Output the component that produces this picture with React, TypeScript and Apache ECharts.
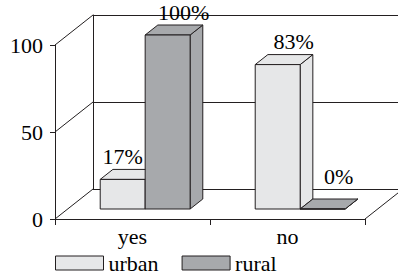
import React, { useEffect, useRef } from 'react';
import * as echarts from 'echarts';

const categories = ['yes', 'no'];
const seriesNames = ['urban', 'rural'];
const urbanValues = [17, 83];
const ruralValues = [100, 0];
const yTicks = [0, 50, 100];

const FONT = 'Liberation Serif, DejaVu Serif, serif';
const FS = 22;
const LINE = '#231f20';
const COLORS = ['#e6e7e8', '#a7a9ac'];
const DX = 38;
const DY = -30;
const FX = DX / 3;
const FY = DY / 3;
const BX = DX / 3;
const BY = DY / 3;

function barRender(seriesIdx: number) {
  return (params: any, api: any) => {
    const ci = api.value(0);
    const v = api.value(1);
    const base = api.coord([ci, 0]);
    const top = api.coord([ci, v]);
    const bw = api.size([1, 0])[0] * 0.29;
    const x0 = base[0] + FX + (seriesIdx === 0 ? -bw : 0);
    const x1 = x0 + bw;
    const yb = base[1] + FY;
    const yt = top[1] + FY;
    const style = { fill: COLORS[seriesIdx], stroke: LINE, lineWidth: 1 };
    const children: any[] = [
      { type: 'polygon', shape: { points: [[x1, yb], [x1 + BX, yb + BY], [x1 + BX, yt + BY], [x1, yt]] }, style },
      { type: 'polygon', shape: { points: [[x0, yt], [x1, yt], [x1 + BX, yt + BY], [x0 + BX, yt + BY]] }, style },
      { type: 'rect', shape: { x: x0, y: yt, width: bw, height: yb - yt }, style },
    ];
    let lx = (x0 + x1) / 2 + 16;
    if (seriesIdx === 0 && ruralValues[ci] > v) lx = (x0 + x1) / 2;
    const floorBack = base[1] + DY;
    const ly = Math.min(yt + BY, floorBack) - 13;
    children.push({
      type: 'text',
      x: lx,
      y: ly,
      style: {
        text: v + '%',
        fontSize: FS,
        fontFamily: FONT,
        fill: '#000',
        align: 'center',
        verticalAlign: 'middle',
      },
    });
    return { type: 'group', children };
  };
}

export default function App() {
  const ref = useRef<HTMLDivElement>(null);
  useEffect(() => {
    if (!ref.current) return;
    const chart = echarts.init(ref.current, null, { renderer: 'svg' });
    const lineStyle = { stroke: LINE, lineWidth: 1 };
    chart.setOption({
      animation: false,
      backgroundColor: '#fff',
      legend: {
        data: seriesNames,
        left: 55,
        top: 252,
        itemWidth: 48,
        itemHeight: 14,
        itemGap: 23,
        icon: 'rect',
        padding: 0,
        textStyle: { fontSize: FS, fontFamily: FONT, color: '#000' },
        itemStyle: { borderColor: LINE, borderWidth: 1 },
      },
      grid: [
        { left: 55, top: 45, width: 310, height: 174, containLabel: false, outerBoundsMode: 'none' },
        { left: 93, top: 15, width: 310, height: 174, containLabel: false, outerBoundsMode: 'none' },
      ],
      xAxis: [
        {
          type: 'category',
          gridIndex: 0,
          data: categories,
          axisLine: { show: true, onZero: false, lineStyle: { color: LINE, width: 1 } },
          axisTick: { show: true, length: 6, alignWithLabel: false, interval: 0, lineStyle: { color: LINE } },
          axisLabel: { fontSize: FS, fontFamily: FONT, color: '#000', margin: 6 },
          splitLine: { show: false },
        },
        { type: 'value', gridIndex: 1, show: false, min: 0, max: 1 },
      ],
      yAxis: [
        {
          type: 'value',
          gridIndex: 0,
          min: 0,
          max: 100,
          interval: 50,
          axisLine: { show: true, onZero: false, lineStyle: { color: LINE, width: 1 } },
          axisTick: { show: true, length: 5, lineStyle: { color: LINE } },
          axisLabel: { fontSize: FS, fontFamily: FONT, color: '#000', margin: 12 },
          splitLine: { show: false },
        },
        {
          type: 'value',
          gridIndex: 1,
          min: 0,
          max: 100,
          interval: 50,
          axisLine: { show: true, onZero: false, lineStyle: { color: LINE, width: 1 } },
          axisTick: { show: false },
          axisLabel: { show: false },
          splitLine: { show: true, lineStyle: { color: LINE, width: 1 } },
        },
      ],
      series: [
        {
          type: 'custom',
          name: 'frame',
          xAxisIndex: 0,
          yAxisIndex: 0,
          silent: true,
          data: yTicks.map((t) => [0, t]),
          renderItem: (params: any, api: any) => {
            const cs = params.coordSys;
            const v = api.value(1);
            const y = api.coord([0, v])[1];
            const x = cs.x;
            const children: any[] = [
              { type: 'line', shape: { x1: x, y1: y, x2: x + DX, y2: y + DY }, style: lineStyle },
            ];
            if (v === 0) {
              const xr = cs.x + cs.width;
              children.push({ type: 'line', shape: { x1: xr, y1: y, x2: xr + DX, y2: y + DY }, style: lineStyle });
            }
            return { type: 'group', children };
          },
        },
        {
          type: 'custom',
          name: seriesNames[0],
          xAxisIndex: 0,
          yAxisIndex: 0,
          itemStyle: { color: COLORS[0], borderColor: LINE, borderWidth: 1 },
          data: urbanValues.map((v, i) => [i, v]),
          renderItem: barRender(0),
        },
        {
          type: 'custom',
          name: seriesNames[1],
          xAxisIndex: 0,
          yAxisIndex: 0,
          itemStyle: { color: COLORS[1], borderColor: LINE, borderWidth: 1 },
          data: ruralValues.map((v, i) => [i, v]),
          renderItem: barRender(1),
        },
      ],
    });
    return () => chart.dispose();
  }, []);
  return <div ref={ref} style={{ position: 'absolute', left: 0, top: 0, width: 398, height: 275 }} />;
}
